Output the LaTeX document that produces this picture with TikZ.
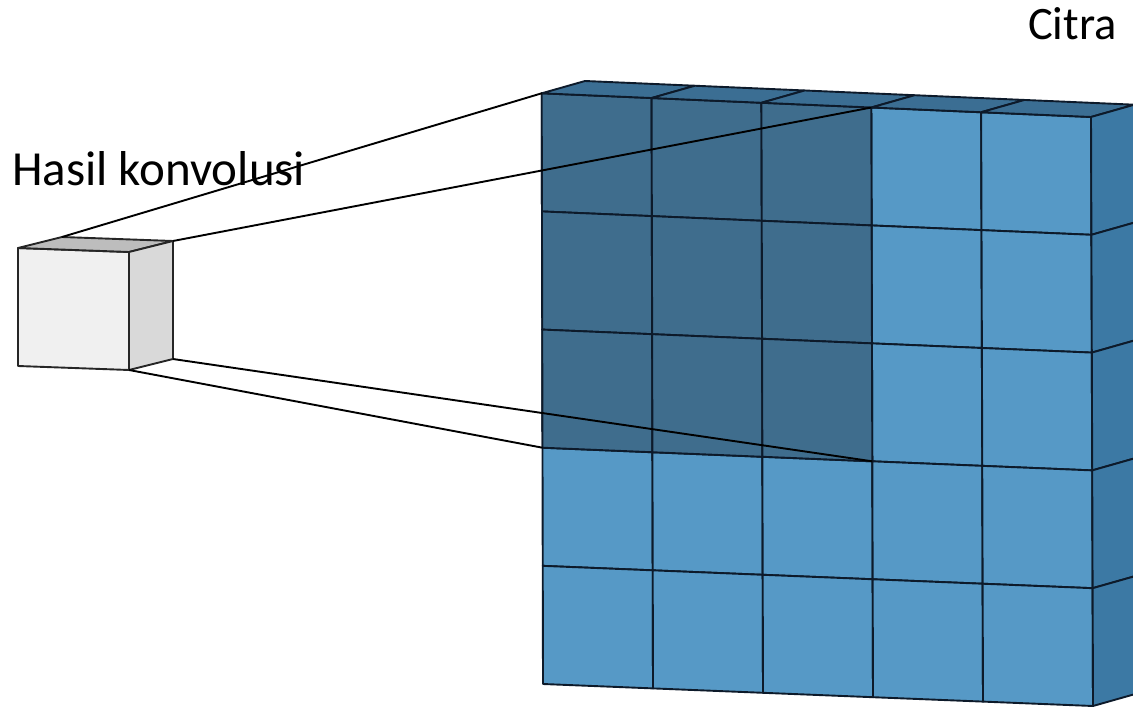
\documentclass[tikz,border=0pt]{standalone}
\usepackage{fontspec}
\setmainfont{Carlito}
\usetikzlibrary{calc}
\definecolor{lightcell}{HTML}{5699C6}
\definecolor{darkcell}{HTML}{3F6D8D}
\definecolor{sideface}{HTML}{3C79A4}
\definecolor{topface}{HTML}{3B6E93}
\definecolor{edgecol}{HTML}{0D1A2A}
\definecolor{cubefront}{HTML}{F0F0F0}
\definecolor{cubeside}{HTML}{D9D9D9}
\definecolor{cubetop}{HTML}{BDBDBD}
\begin{document}
\begin{tikzpicture}[x=1pt,y=-1pt,
  cellL/.style={fill=lightcell,draw=edgecol,line width=1.9pt,line join=round},
  cellD/.style={fill=darkcell,draw=edgecol,line width=1.9pt,line join=round},
  topcell/.style={fill=topface,draw=edgecol,line width=1.9pt,line join=round},
  sidecell/.style={fill=sideface,draw=edgecol,line width=1.9pt,line join=round},
  cubeface/.style={draw=black!85,line width=1.9pt,line join=round},
  link/.style={draw=black,line width=1.9pt},
  label/.style={inner sep=0pt,anchor=base west}]
\useasboundingbox (0,0) rectangle (1133,708);
% grid front face corners
\coordinate (TL) at (541.7,93.3);
\coordinate (TR) at (1091,117);
\coordinate (BL) at (543,684);
\coordinate (BR) at (1093,706);
\coordinate (d) at (43.3,-12.3);
\foreach \i in {0,...,5}{
  \foreach \j in {0,...,5}{
    \coordinate (p\i\j) at ($ ($(TL)!\i/5!(TR)$)!\j/5!($(BL)!\i/5!(BR)$) $);
  }
}
% front cells
\foreach \i in {0,...,4}{
  \foreach \j in {0,...,4}{
    \pgfmathtruncatemacro\ii{\i+1}
    \pgfmathtruncatemacro\jj{\j+1}
    \path[cellL] (p\i\j) -- (p\ii\j) -- (p\ii\jj) -- (p\i\jj) -- cycle;
  }
}
\foreach \i in {0,...,2}{
  \foreach \j in {0,...,2}{
    \pgfmathtruncatemacro\ii{\i+1}
    \pgfmathtruncatemacro\jj{\j+1}
    \path[cellD] (p\i\j) -- (p\ii\j) -- (p\ii\jj) -- (p\i\jj) -- cycle;
  }
}
% top face
\foreach \i in {0,...,4}{
  \pgfmathtruncatemacro\ii{\i+1}
  \path[topcell] (p\i0) -- (p\ii0) -- ($(p\ii0)+(d)$) -- ($(p\i0)+(d)$) -- cycle;
}
% side face
\foreach \j in {0,...,4}{
  \pgfmathtruncatemacro\jj{\j+1}
  \path[sidecell] (p5\j) -- (p5\jj) -- ($(p5\jj)+(d)$) -- ($(p5\j)+(d)$) -- cycle;
}
% small cube
\coordinate (cFTL) at (18,248);
\coordinate (cFTR) at (129,252);
\coordinate (cFBR) at (129,370);
\coordinate (cFBL) at (18,366);
\coordinate (cBTL) at (62,237);
\coordinate (cBTR) at (173,241);
\coordinate (cBBR) at (173,359);
\path[cubeface,fill=cubefront] (cFTL) -- (cFTR) -- (cFBR) -- (cFBL) -- cycle;
\path[cubeface,fill=cubetop] (cFTL) -- (cBTL) -- (cBTR) -- (cFTR) -- cycle;
\path[cubeface,fill=cubeside] (cFTR) -- (cBTR) -- (cBBR) -- (cFBR) -- cycle;
% labels
\node[label,font=\fontsize{49}{58}\selectfont] (hasil) at (12,186) {Hasil konvolusi};
\node[label,font=\fontsize{46.5}{56}\selectfont] (citra) at (1028,40) {Citra};
% projection lines
\draw[link] (cBTL) -- (p00);
\draw[link] (cBTR) -- (p30);
\draw[link] (cBBR) -- (p33);
\draw[link] (cFBR) -- (p03);
\end{tikzpicture}
\end{document}
